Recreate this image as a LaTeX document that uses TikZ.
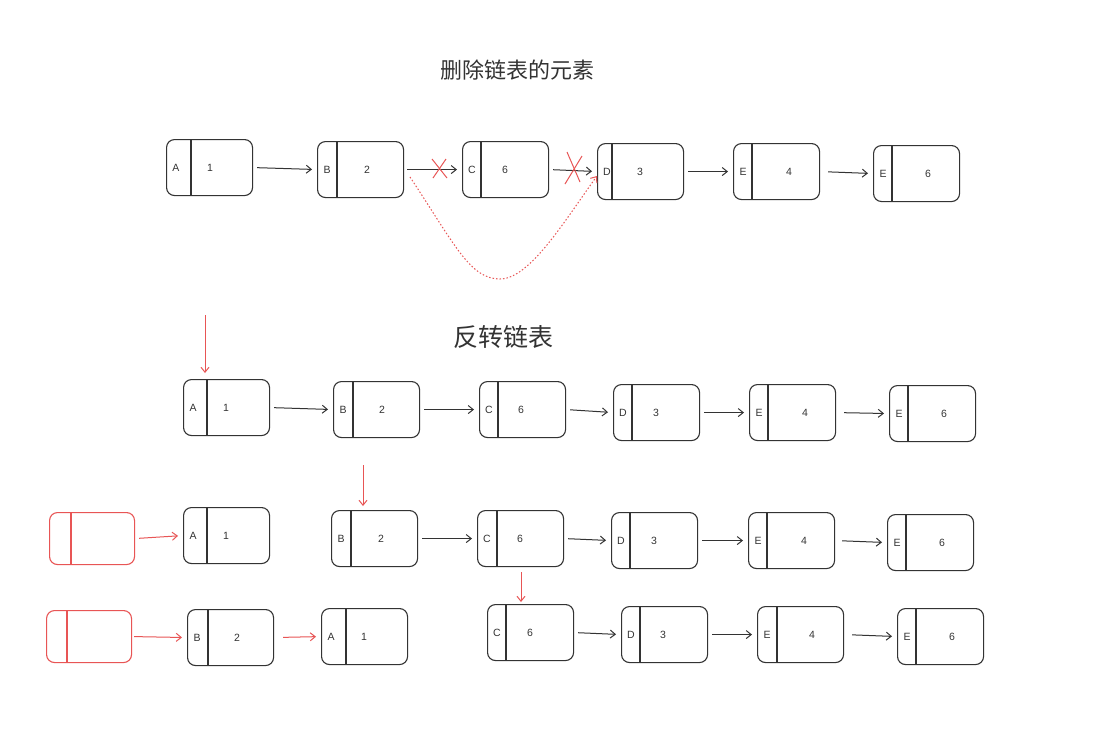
\documentclass[tikz,border=0pt]{standalone}
\usepackage{fontspec}
\setmainfont{Liberation Sans}
\newfontfamily\cjk{Noto Sans CJK SC}
\usetikzlibrary{arrows.meta,calc}
\definecolor{ink}{HTML}{333333}
\definecolor{redl}{HTML}{E85555}
\tikzset{
  cellbox/.style={draw=ink, line width=1.1pt, rounded corners=8pt, minimum width=86pt, minimum height=56pt, inner sep=0pt},
  redbox/.style={draw=redl, line width=1.1pt, rounded corners=8pt, minimum width=85pt, minimum height=52pt, inner sep=0pt},
  lbl/.style={font=\fontsize{10.5}{12}\selectfont, text=ink, inner sep=0pt},
  arr/.style={draw=ink, line width=1pt, -{Straight Barb[length=5pt,width=8pt]}, shorten <=4pt, shorten >=5pt},
  redarr/.style={draw=redl, line width=1pt, -{Straight Barb[length=5pt,width=8pt]}},
  cross/.style={draw=redl, line width=1pt},
  title/.style={text=ink, inner sep=0pt}
}
% name, x, y, divider offset, letter, value, value offset
\newcommand\llcell[7]{%
  \node[cellbox, anchor=north west] (#1) at (#2,#3) {};
  \draw[draw=ink, line width=1.1pt] ($(#1.north west)+(#4,0)$) -- ($(#1.south west)+(#4,0)$);
  \node[lbl] (#1-l) at ($(#1.west)+(10,0)$) {#5};
  \node[lbl] (#1-v) at ($(#1.west)+(#7,0)$) {#6};
}
\newcommand\llred[4]{%
  \node[redbox, anchor=north west] (#1) at (#2,#3) {};
  \draw[draw=redl, line width=1.1pt] ($(#1.north west)+(#4,0)$) -- ($(#1.south west)+(#4,0)$);
}
\begin{document}
\begin{tikzpicture}[x=1pt,y=-1pt]
\useasboundingbox[fill=white] (0,0) rectangle (1104,734);

% ---- titles
\node[title, font=\cjk\fontsize{22}{25}\selectfont] (t1) at (517,70) {删除链表的元素};
\node[title, font=\cjk\fontsize{25}{29}\selectfont] (t2) at (503,337) {反转链表};

% ---- row 1 : delete
\llcell{a1}{166}{139}{25}{A}{1}{44}
\llcell{b1}{317}{141}{20}{B}{2}{50}
\llcell{c1}{462}{141}{19}{C}{6}{43}
\llcell{d1}{597}{143}{15}{D}{3}{43}
\llcell{e1}{733}{143}{19}{E}{4}{56}
\llcell{f1}{873}{145}{19}{E}{6}{55}
\draw[arr] (a1.east) -- (b1.west);
\draw[arr, shorten <=3pt] (b1.east) -- (c1.west);
\draw[arr] (c1.east) -- (d1.west);
\draw[arr] (d1.east) -- (e1.west);
\draw[arr, shorten <=8pt] (e1.east) -- (f1.west);
\draw[cross] (432,159) -- (447,178);
\draw[cross] (446,159) -- (433,178);
\draw[cross] (567,152) -- (580,182);
\draw[cross] (582,156) -- (565,184);
\coordinate (cs) at (410,177);
\coordinate (ce) at (597,176);
\draw[redl, line width=1pt, dash pattern=on 1.5pt off 2pt, -{Straight Barb[length=5pt,width=8pt]}]
  (cs) .. controls (455,245) and (470,279) .. (500,279)
       .. controls (530,279) and (565,220) .. (ce);

% ---- row 2
\llcell{a2}{183}{379}{24}{A}{1}{43}
\llcell{b2}{333}{381}{20}{B}{2}{49}
\llcell{c2}{479}{381}{19}{C}{6}{42}
\llcell{d2}{613}{384}{19}{D}{3}{43}
\llcell{e2}{749}{384}{19}{E}{4}{56}
\llcell{f2}{889}{385}{19}{E}{6}{55}
\draw[arr] (a2.east) -- (b2.west);
\draw[arr] (b2.east) -- (c2.west);
\draw[arr] (c2.east) -- (d2.west);
\draw[arr] (d2.east) -- (e2.west);
\draw[arr, shorten <=8pt] (e2.east) -- (f2.west);
\coordinate (p1) at (205,315);
\draw[redarr, shorten >=6pt] (p1) -- (p1 |- a2.north);

% ---- row 3
\llred{r3}{49}{512}{22}
\llcell{a3}{183}{507}{24}{A}{1}{43}
\llcell{b3}{331}{510}{20}{B}{2}{50}
\llcell{c3}{477}{510}{20}{C}{6}{43}
\llcell{d3}{611}{512}{19}{D}{3}{43}
\llcell{e3}{748}{512}{19}{E}{4}{56}
\llcell{f3}{887}{514}{19}{E}{6}{55}
\draw[redarr, shorten <=4pt, shorten >=5pt] (r3.east) -- (a3.west);
\draw[arr] (b3.east) -- (c3.west);
\draw[arr] (c3.east) -- (d3.west);
\draw[arr] (d3.east) -- (e3.west);
\draw[arr, shorten <=7pt] (e3.east) -- (f3.west);
\coordinate (p2) at (363,465);
\draw[redarr, shorten >=4pt] (p2) -- (p2 |- b3.north);

% ---- row 4
\llred{r4}{46}{610}{21}
\llcell{b4}{187}{609}{21}{B}{2}{50}
\llcell{a4}{321}{608}{25}{A}{1}{43}
\llcell{c4}{487}{604}{19}{C}{6}{43}
\llcell{d4}{621}{606}{19}{D}{3}{42}
\llcell{e4}{757}{606}{20}{E}{4}{55}
\llcell{f4}{897}{608}{19}{E}{6}{55}
\draw[redarr, shorten <=2pt, shorten >=5pt] (r4.east) -- (b4.west);
\draw[redarr, shorten <=9pt, shorten >=5pt] (b4.east) -- (a4.west);
\draw[arr] (c4.east) -- (d4.west);
\draw[arr] (d4.east) -- (e4.west);
\draw[arr, shorten <=8pt] (e4.east) -- (f4.west);
\coordinate (p3) at (521,572);
\draw[redarr, shorten >=2pt] (p3) -- (p3 |- c4.north);
\end{tikzpicture}
\end{document}
